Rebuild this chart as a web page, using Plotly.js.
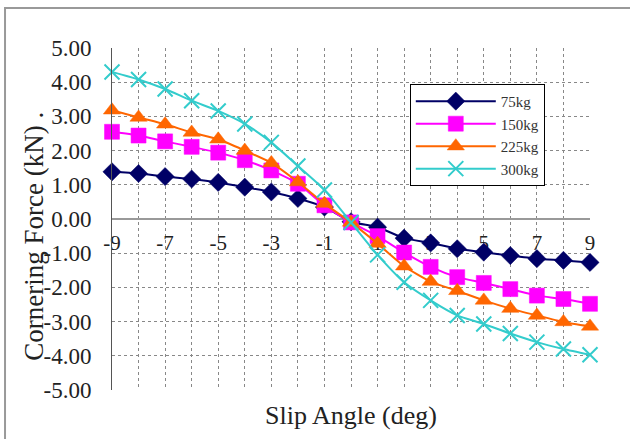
<!DOCTYPE html>
<html>
<head>
<meta charset="utf-8">
<script src="https://cdn.plot.ly/plotly-3.0.1.min.js"></script>
<style>html,body{margin:0;padding:0;background:#fff;}</style>
</head>
<body>
<div id="chart" style="width:630px;height:439px;"></div>
<script>
const slipAngle = [-9,-8,-7,-6,-5,-4,-3,-2,-1,0,1,2,3,4,5,6,7,8,9];
const force75 = [1.38,1.33,1.24,1.17,1.07,0.93,0.79,0.60,0.35,-0.08,-0.24,-0.56,-0.70,-0.87,-0.97,-1.07,-1.16,-1.21,-1.27];
const force150 = [2.55,2.44,2.27,2.11,1.94,1.72,1.42,1.03,0.40,-0.10,-0.50,-0.98,-1.40,-1.70,-1.87,-2.05,-2.24,-2.34,-2.48];
const force225 = [3.18,2.97,2.77,2.53,2.33,2.00,1.64,1.08,0.45,-0.10,-0.72,-1.38,-1.83,-2.10,-2.38,-2.62,-2.82,-3.01,-3.14];
const force300 = [4.30,4.08,3.80,3.46,3.16,2.78,2.24,1.55,0.85,-0.10,-1.05,-1.85,-2.38,-2.82,-3.07,-3.35,-3.60,-3.80,-3.97];
const seriesNames = ['75kg','150kg','225kg','300kg'];
const xTickVals = [-9,-8,-7,-6,-5,-4,-3,-2,-1,0,1,2,3,4,5,6,7,8,9];
const xTickText = ['-9','','-7','','-5','','-3','','-1','','1','','3','','5','','7','','9'];
const yTickVals = [-5,-4,-3,-2,-1,0,1,2,3,4,5];
const yTickText = ['-5.00','-4.00','-3.00','-2.00','-1.00','0.00','1.00','2.00','3.00','4.00','5.00'];

const serif = '"Liberation Serif", "Times New Roman", serif';
const styles = [
  {color:'#000066', symbol:'diamond', size:14},
  {color:'#FF00FF', symbol:'square', size:15},
  {color:'#FF6600', symbol:'triangle-up', size:15},
  {color:'#33CCCC', symbol:'x-thin', size:15}
];
const ys = [force75, force150, force225, force300];
const traces = ys.map((y,i)=>({
  x: slipAngle, y: y, name: seriesNames[i], type:'scatter', mode:'lines+markers',
  line:{color:styles[i].color, width:2, shape:'spline', smoothing:0.6},
  marker:{symbol:styles[i].symbol, size:styles[i].size, color:styles[i].color,
          line:{color:styles[i].color, width: i===3 ? 2 : 0.5}},
  cliponaxis:false
}));

const layout = {
  width:630, height:439,
  margin:{l:112, r:40, t:48, b:49},
  paper_bgcolor:'#fff', plot_bgcolor:'#fff',
  font:{family:serif, color:'#222'},
  showlegend:true,
  legend:{x:0.623, y:0.895, xanchor:'left', yanchor:'top',
          bgcolor:'#fff', bordercolor:'#000', borderwidth:1, itemwidth:80,
          font:{family:serif, size:15, color:'#333'}, tracegroupgap:0},
  xaxis:{range:[-9,9], tickvals:xTickVals, ticktext:xTickText,
         anchor:'free', position:0.5, showline:false, ticks:'',
         ticklabelstandoff:9, layer:'below traces',
         showgrid:true, gridcolor:'#888', griddash:'dot', gridwidth:1,
         zeroline:false, tickfont:{family:serif, size:21, color:'#222'}},
  yaxis:{range:[-5,5], tickvals:yTickVals, ticktext:yTickText,
         showline:true, linecolor:'#555', linewidth:1, ticks:'',
         ticklabelstandoff:15,
         showgrid:true, gridcolor:'#888', griddash:'dot', gridwidth:1,
         zeroline:true, zerolinecolor:'#999', zerolinewidth:2,
         tickfont:{family:serif, size:23, color:'#222'}},
  annotations:[
    {text:'Slip Angle (deg)', xref:'paper', yref:'paper', x:0.5, y:-0.025,
     xanchor:'center', yanchor:'top', showarrow:false,
     font:{family:serif, size:26, color:'#222'}},
    {text:'Cornering Force (kN) .', xref:'paper', yref:'paper', x:-0.162, y:0.45,
     xanchor:'center', yanchor:'middle', textangle:-90, showarrow:false,
     font:{family:serif, size:27, color:'#222'}}
  ],
  shapes:[
    {type:'rect', xref:'paper', yref:'paper', x0:-0.2238, x1:1.12, y0:-0.17, y1:1.117,
     line:{color:'#999', width:2}, fillcolor:'rgba(0,0,0,0)', layer:'below'}
  ]
};
Plotly.newPlot('chart', traces, layout, {displayModeBar:false, staticPlot:true});
</script>
</body>
</html>
